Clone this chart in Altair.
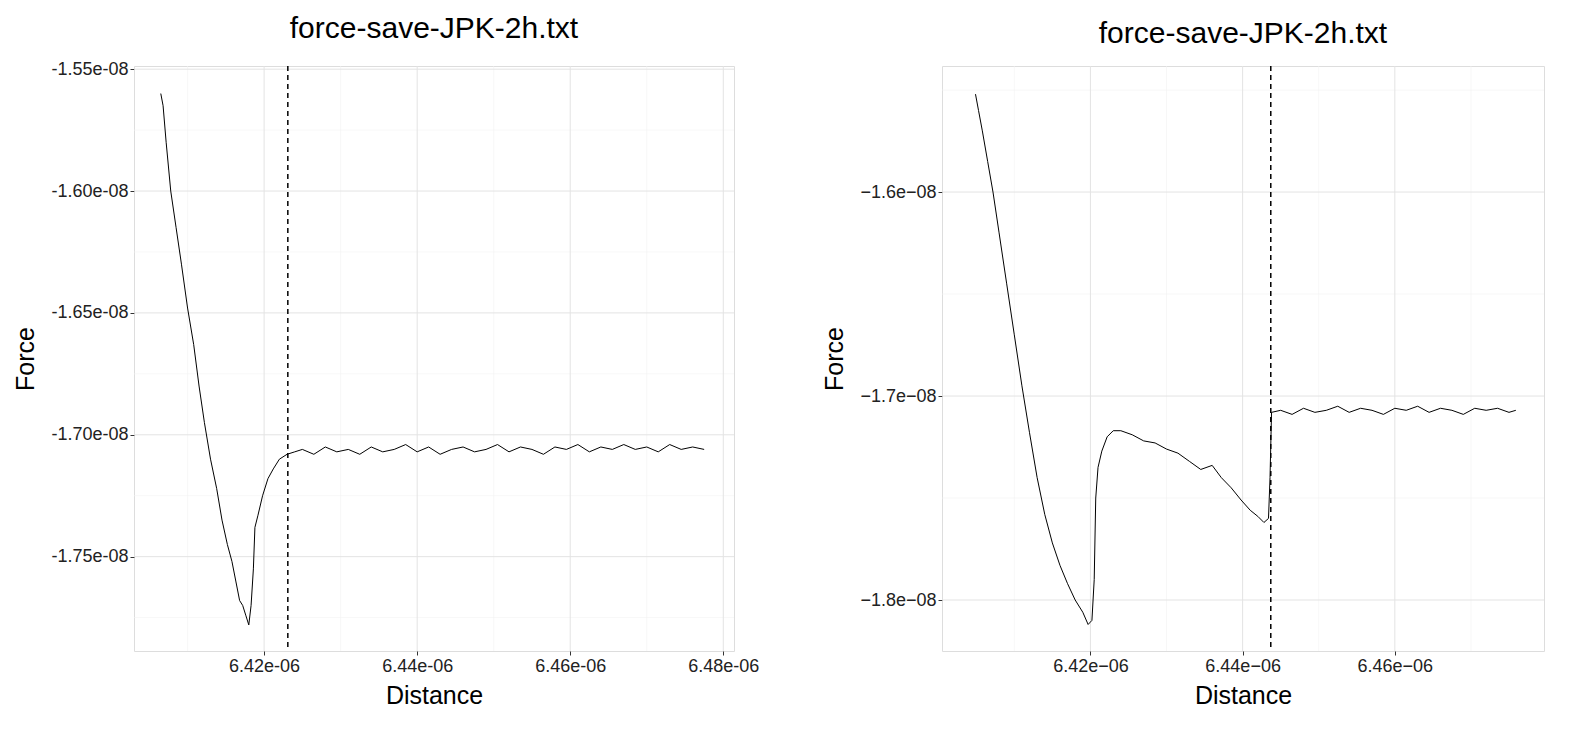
import altair as alt
import pandas as pd

# x in units of 1e-06, y in units of 1e-08 (scaled below)
left_x = [6.4065, 6.4068, 6.4072, 6.4078, 6.4085, 6.4092, 6.4100, 6.4108, 6.4115,
          6.4122, 6.4130, 6.4138, 6.4145, 6.4152, 6.4158, 6.4163, 6.4168, 6.4172,
          6.4176, 6.4180, 6.4183, 6.4186, 6.4188, 6.4192, 6.4198, 6.4205, 6.4212,
          6.4220, 6.4230, 6.4240, 6.4250, 6.4265, 6.4280, 6.4295, 6.4310, 6.4325,
          6.4340, 6.4355, 6.4370, 6.4385, 6.4400, 6.4415, 6.4430, 6.4445, 6.4460,
          6.4475, 6.4490, 6.4505, 6.4520, 6.4535, 6.4550, 6.4565, 6.4580, 6.4595,
          6.4610, 6.4625, 6.4640, 6.4655, 6.4670, 6.4685, 6.4700, 6.4715, 6.4730,
          6.4745, 6.4760, 6.4775]
left_y = [-1.560, -1.565, -1.580, -1.600, -1.615, -1.630, -1.648, -1.663, -1.680,
          -1.695, -1.710, -1.722, -1.735, -1.745, -1.752, -1.760, -1.768, -1.770,
          -1.774, -1.778, -1.770, -1.755, -1.738, -1.733, -1.725, -1.718, -1.714,
          -1.710, -1.708, -1.707, -1.706, -1.708, -1.705, -1.707, -1.706, -1.708,
          -1.705, -1.707, -1.706, -1.704, -1.707, -1.705, -1.708, -1.706, -1.705,
          -1.707, -1.706, -1.704, -1.707, -1.705, -1.706, -1.708, -1.705, -1.706,
          -1.704, -1.707, -1.705, -1.706, -1.704, -1.706, -1.705, -1.707, -1.704,
          -1.706, -1.705, -1.706]
left_cut = 6.4231

right_x = [6.4049, 6.4053, 6.4058, 6.4065, 6.4072, 6.4080, 6.4090, 6.4100, 6.4110,
           6.4120, 6.4130, 6.4140, 6.4150, 6.4160, 6.4170, 6.4180, 6.4190, 6.4197,
           6.4202, 6.4205, 6.4207, 6.4210, 6.4215, 6.4222, 6.4230, 6.4240, 6.4255,
           6.4270, 6.4285, 6.4300, 6.4315, 6.4330, 6.4345, 6.4360, 6.4372, 6.4385,
           6.4398, 6.4410, 6.4420, 6.4428, 6.4434, 6.4436, 6.4438, 6.4450, 6.4465,
           6.4480, 6.4495, 6.4510, 6.4525, 6.4540, 6.4555, 6.4570, 6.4585, 6.4600,
           6.4615, 6.4630, 6.4645, 6.4660, 6.4675, 6.4690, 6.4705, 6.4720, 6.4735,
           6.4750, 6.4759]
right_y = [-1.552, -1.560, -1.570, -1.585, -1.600, -1.620, -1.645, -1.670, -1.695,
           -1.718, -1.740, -1.758, -1.772, -1.783, -1.792, -1.800, -1.806, -1.812,
           -1.810, -1.790, -1.750, -1.735, -1.727, -1.720, -1.717, -1.717, -1.719,
           -1.722, -1.723, -1.726, -1.728, -1.732, -1.736, -1.734, -1.740, -1.745,
           -1.751, -1.756, -1.759, -1.762, -1.760, -1.740, -1.708, -1.707, -1.709,
           -1.706, -1.708, -1.707, -1.705, -1.708, -1.706, -1.707, -1.709, -1.706,
           -1.707, -1.705, -1.708, -1.706, -1.707, -1.709, -1.706, -1.707, -1.706,
           -1.708, -1.707]
right_cut = 6.4437

title = "force-save-JPK-2h.txt"
font = "Liberation Sans"


def panel(xs, ys, cut, xdom, ydom, xmaj, xmin, ymaj, ymin, xfmt, yfmt, width):
    line_df = pd.DataFrame({"Distance": [v * 1e-6 for v in xs],
                            "Force": [v * 1e-8 for v in ys]})
    xsc = alt.Scale(domain=[d * 1e-6 for d in xdom], nice=False, zero=False)
    ysc = alt.Scale(domain=[d * 1e-8 for d in ydom], nice=False, zero=False)

    vmin = alt.Chart(pd.DataFrame({"v": [v * 1e-6 for v in xmin]})).mark_rule(
        color="#f2f2f2", strokeWidth=0.6).encode(x=alt.X("v:Q", scale=xsc))
    vmaj = alt.Chart(pd.DataFrame({"v": [v * 1e-6 for v in xmaj]})).mark_rule(
        color="#e3e3e3", strokeWidth=1).encode(x=alt.X("v:Q", scale=xsc))
    hmin = alt.Chart(pd.DataFrame({"v": [v * 1e-8 for v in ymin]})).mark_rule(
        color="#f2f2f2", strokeWidth=0.6).encode(y=alt.Y("v:Q", scale=ysc))
    hmaj = alt.Chart(pd.DataFrame({"v": [v * 1e-8 for v in ymaj]})).mark_rule(
        color="#e3e3e3", strokeWidth=1).encode(y=alt.Y("v:Q", scale=ysc))

    axis_style = dict(grid=False, domain=False, tickColor="#333", tickSize=4,
                      labelFontSize=18, labelColor="#222", titleFontSize=25,
                      titleFontWeight="normal", titleColor="black",
                      labelFont=font, titleFont=font)
    line = alt.Chart(line_df).mark_line(color="black", strokeWidth=1).encode(
        x=alt.X("Distance:Q", scale=xsc, title="Distance",
                axis=alt.Axis(values=[v * 1e-6 for v in xmaj], labelExpr=xfmt,
                              titlePadding=8, **axis_style)),
        y=alt.Y("Force:Q", scale=ysc, title="Force",
                axis=alt.Axis(values=[v * 1e-8 for v in ymaj], labelExpr=yfmt,
                              titlePadding=12, **axis_style)),
    )
    cut_rule = alt.Chart(pd.DataFrame({"c": [cut * 1e-6]})).mark_rule(
        color="black", strokeDash=[5, 4], strokeWidth=1.5).encode(
        x=alt.X("c:Q", scale=xsc))

    return alt.layer(vmin, hmin, vmaj, hmaj, line, cut_rule).properties(
        width=width, height=585,
        title=alt.TitleParams(title, fontSize=30, fontWeight="normal",
                              font=font, offset=16))


left = panel(left_x, left_y, left_cut, [6.403, 6.4814], [-1.7887, -1.5487],
             [6.42, 6.44, 6.46, 6.48], [6.41, 6.43, 6.45, 6.47],
             [-1.55, -1.60, -1.65, -1.70, -1.75],
             [-1.575, -1.625, -1.675, -1.725, -1.775],
             "replace(format(datum.value, '.2e'), 'e-6', 'e-06')",
             "replace(replace(format(datum.value, '.2e'), '\u2212', '-'), 'e-8', 'e-08')",
             600)

right = panel(right_x, right_y, right_cut, [6.4005, 6.4796], [-1.825, -1.5382],
              [6.42, 6.44, 6.46], [6.41, 6.43, 6.45, 6.47],
              [-1.6, -1.7, -1.8], [-1.55, -1.65, -1.75],
              "replace(replace(format(datum.value, '.2e'), '-', '\u2212'), 'e\u22126', 'e\u221206')",
              "replace(replace(format(datum.value, '.1e'), '-', '\u2212'), 'e\u22128', 'e\u221208')",
              602)

chart = alt.hconcat(left, right, spacing=62).configure_view(
    stroke="#666", strokeWidth=1).configure(background="white")

chart.save("out.html", embed_options={"renderer": "svg", "actions": False})
